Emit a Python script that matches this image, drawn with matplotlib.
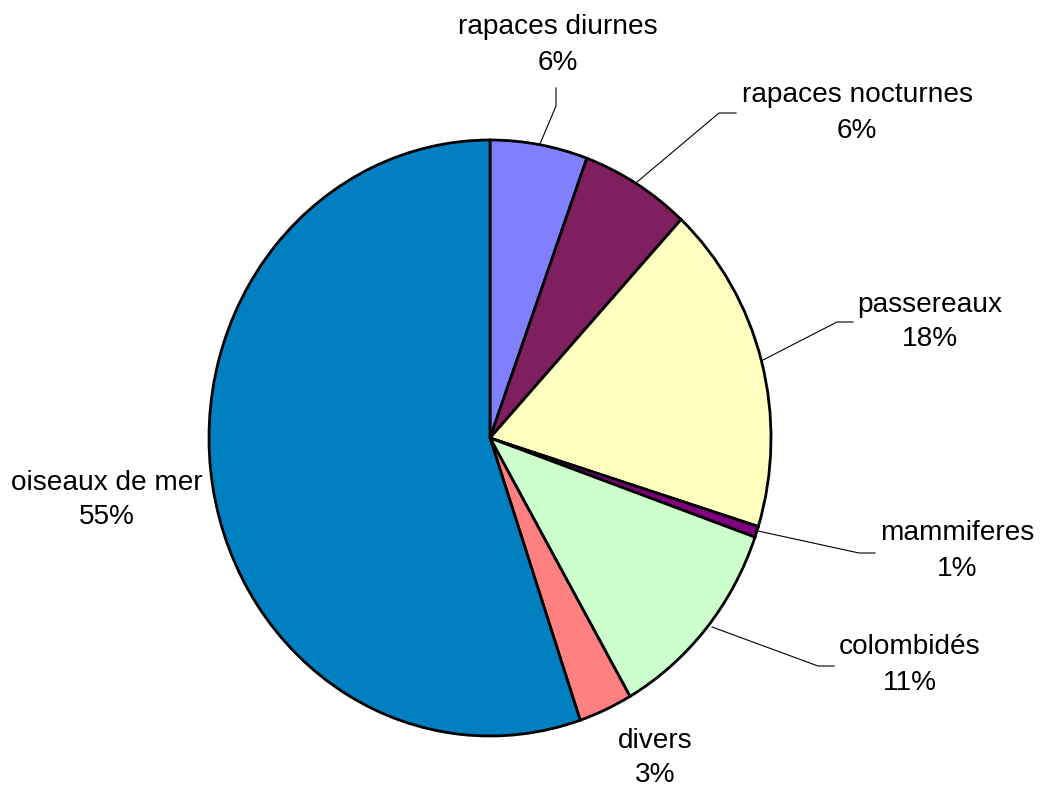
import matplotlib
matplotlib.use("Agg")
import matplotlib.pyplot as plt

categories = ["rapaces diurnes", "rapaces nocturnes", "passereaux", "mammiferes",
              "colombidés", "divers", "oiseaux de mer"]
values = [5.6, 6.3, 17.9, 0.6, 11.3, 3.1, 55.2]
pct_labels = ["6%", "6%", "18%", "1%", "11%", "3%", "55%"]
colors = ["#8080FF", "#7F1F5F", "#FFFFC0", "#800080", "#CCFFCC", "#FF8080", "#0080C0"]

W, H = 1040, 789
CX, CY = 490, 438          # pie centre (pixels from top-left)
RX, RY = 281, 298          # horizontal / vertical radius in pixels

def px(x, y):
    return ((x - CX) / RX, (CY - y) / RY)

# label centres (pixels) and leader lines (pixels)
label_pos = [(558, 45), (857, 113), (930, 322), (957, 551), (910, 665), (655, 758), (107, 500)]
leaders = [
    [(540, 144), (556, 106), (556, 88)],
    [(637, 182), (719, 113), (736, 113)],
    [(763, 360), (837, 322), (853, 322)],
    [(758, 531), (859, 553), (875, 553)],
    [(712, 627), (818, 666), (834, 666)],
    None,
    None,
]

fig = plt.figure(figsize=(W / 100, H / 100), dpi=100)
ax = fig.add_axes([0, 0, 1, 1])
ax.pie(values, colors=colors, startangle=90, counterclock=False, radius=1,
       center=(0, 0), wedgeprops=dict(edgecolor="black", linewidth=2.0))
ax.set_aspect("auto")
x0, _ = px(0, 0)
x1, _ = px(W, 0)
_, y0 = px(0, H)
_, y1 = px(0, 0)
ax.set_xlim(x0, x1)
ax.set_ylim(y0, y1)
ax.axis("off")

for cat, pl, pos, ld in zip(categories, pct_labels, label_pos, leaders):
    tx, ty = px(*pos)
    ax.text(tx, ty, f"{cat}\n{pl}", ha="center", va="center", fontsize=20.2,
            family=["Liberation Sans", "DejaVu Sans"], linespacing=1.45, color="black")
    if ld is not None:
        xs = [px(a, b)[0] for a, b in ld]
        ys = [px(a, b)[1] for a, b in ld]
        ax.plot(xs, ys, color="black", linewidth=0.8)

fig.savefig("out.png", dpi=100)
